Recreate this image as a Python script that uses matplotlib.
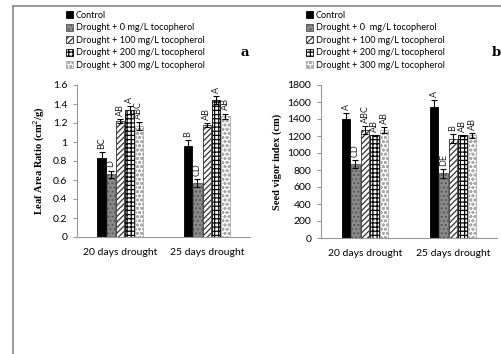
import numpy as np
import matplotlib
matplotlib.use('Agg')
import matplotlib.pyplot as plt
from matplotlib.lines import Line2D

plt.rcParams['font.family'] = ['Lato', 'DejaVu Sans']
plt.rcParams['hatch.linewidth'] = 0.9

days = ['20 days drought', '25 days drought']
treatments = ['Control',
              'Drought + 0 mg/L tocopherol',
              'Drought + 100 mg/L tocopherol',
              'Drought + 200 mg/L tocopherol',
              'Drought + 300 mg/L tocopherol']
treatments_b = ['Control',
                'Drought + 0  mg/L tocopherol',
                'Drought + 100 mg/L tocopherol',
                'Drought + 200 mg/L tocopherol',
                'Drought + 300 mg/L tocopherol']

# leaf area ratio, rows = treatment, cols = drought duration
lar = [[0.83, 0.96],
       [0.66, 0.57],
       [1.22, 1.18],
       [1.34, 1.44],
       [1.17, 1.27]]
lar_err = [[0.06, 0.06],
           [0.04, 0.04],
           [0.02, 0.02],
           [0.04, 0.04],
           [0.04, 0.03]]
lar_letters = [['BC', 'B'],
               ['D', 'CD'],
               ['AB', 'AB'],
               ['A', 'A'],
               ['ABC', 'AB']]

# seed vigor index
svi = [[1400, 1540],
       [870, 760],
       [1270, 1170],
       [1210, 1210],
       [1270, 1210]]
svi_err = [[70, 80],
           [50, 50],
           [50, 50],
           [5, 5],
           [30, 30]]
svi_letters = [['A', 'A'],
               ['CD', 'DE'],
               ['ABC', 'B'],
               ['AB', 'AB'],
               ['AB', 'AB']]

# fill / hatch per treatment
styles = [dict(facecolor='black', edgecolor='black', hatch=None),
          dict(facecolor='#8a8a8a', edgecolor='#555555', hatch='....'),
          dict(facecolor='white', edgecolor='#333333', hatch='//////'),
          dict(facecolor='white', edgecolor='black', hatch='++++'),
          dict(facecolor='white', edgecolor='#aaaaaa', hatch='oooo')]

fig = plt.figure(figsize=(5.02, 3.54), dpi=100)

# page frame lines
fig.add_artist(Line2D([13 / 502, 1], [1 - 6 / 354, 1 - 6 / 354],
                      color='#888888', lw=1.2))
fig.add_artist(Line2D([13 / 502, 13 / 502], [0, 1 - 6 / 354],
                      color='#888888', lw=1.2))

ax_a = fig.add_axes([77 / 502, 1 - 237 / 354, 173 / 502, 152 / 354])
ax_b = fig.add_axes([321 / 502, 1 - 238 / 354, 176 / 502, 153 / 354])


def draw(ax, vals, errs, letters, ymax, step, ylabel, fmt):
    x = np.arange(len(days))
    w = 0.108
    bars = []
    for i, st in enumerate(styles):
        pos = x + (i - 2) * w
        b = ax.bar(pos, vals[i], width=w * 0.9, linewidth=0.6, **st,
                   yerr=errs[i], capsize=2, error_kw=dict(ecolor='black', elinewidth=0.8, capthick=0.8))
        bars.append(b)
        for j in range(len(days)):
            ax.text(pos[j], vals[i][j] + errs[i][j] + ymax * 0.02, letters[i][j],
                    rotation=90, ha='center', va='bottom', fontsize=6.5, color='#222222')
    ax.set_xlim(-0.5, 1.5)
    ax.set_ylim(0, ymax)
    ax.set_yticks(np.arange(0, ymax + step / 2, step))
    ax.yaxis.set_major_formatter(fmt)
    ax.set_xticks(x)
    ax.set_xticklabels(days, fontsize=7.5)
    ax.tick_params(axis='y', labelsize=7.5, length=3, color='#999999', pad=4)
    ax.tick_params(axis='x', length=0, pad=8)
    for s in ['top', 'right']:
        ax.spines[s].set_visible(False)
    ax.spines['left'].set_color('#999999')
    ax.spines['bottom'].set_color('#999999')
    ax.set_ylabel(ylabel, family='Liberation Serif', fontweight='bold', fontsize=7.5, labelpad=4)
    return bars


def fmt_a(v, pos):
    return ('%g' % round(v, 1))


bars_a = draw(ax_a, lar, lar_err, lar_letters, 1.6, 0.2,
              'Leaf Area Ratio (cm$^2$/g)', plt.FuncFormatter(fmt_a))
bars_b = draw(ax_b, svi, svi_err, svi_letters, 1800, 200,
              'Seed vigor index (cm)', plt.FuncFormatter(lambda v, p: '%d' % v))

leg_kw = dict(loc='upper left', frameon=False, fontsize=6.6, handlelength=0.8,
              handleheight=0.8, handletextpad=0.3, labelspacing=0.38,
              borderaxespad=0, borderpad=0)
fig.legend(bars_a, treatments, bbox_to_anchor=(66 / 502, 1 - 11 / 354), **leg_kw)
fig.legend(bars_b, treatments_b, bbox_to_anchor=(306 / 502, 1 - 11 / 354), **leg_kw)

fig.text(245 / 502, 1 - 53 / 354, 'a', fontsize=9.5, fontweight='heavy',
         family='DejaVu Serif', ha='center', va='center')
fig.text(496 / 502, 1 - 53 / 354, 'b', fontsize=9.5, fontweight='heavy',
         family='DejaVu Serif', ha='center', va='center')

fig.savefig('out.png', dpi=100)
